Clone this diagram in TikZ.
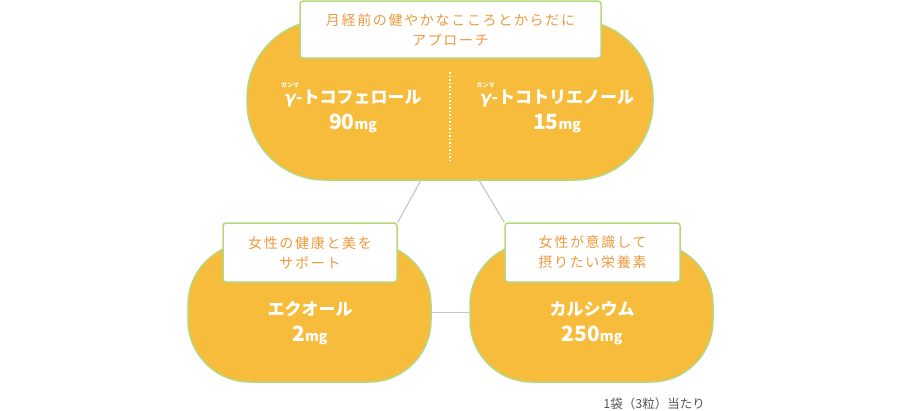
\documentclass[tikz,border=0pt]{standalone}
\usepackage{fontspec}
\setmainfont{Noto Sans CJK JP}
\newfontfamily\labelfont[LetterSpace=12]{Noto Sans CJK JP}
\newfontfamily\gammafont{DejaVu Sans}
\usetikzlibrary{positioning,backgrounds}

\definecolor{capsulefill}{HTML}{F8BC3C}
\definecolor{capsuleline}{HTML}{B6D87C}
\definecolor{labeltext}{HTML}{EE9A3E}
\definecolor{linkgray}{HTML}{C8C8C8}
\definecolor{notegray}{HTML}{555555}

% small reading over a base text
\newcommand\furi[2]{\setbox0\hbox{#1}\rlap{\hbox to\wd0{\hss\raisebox{0.9em}[0pt][0pt]{\fontsize{6pt}{6pt}\selectfont #2}\hss}}\box0}
\newcommand\gam{\furi{\gammafont\bfseries\itshape γ}{ガンマ}}
\newcommand\amount[1]{{\fontsize{21pt}{25pt}\selectfont #1}{\fontsize{14pt}{25pt}\selectfont mg}}

\begin{document}
\begin{tikzpicture}[
    x = 1pt, y = -1pt,
    capsule/.style = {draw = capsuleline, line width = 1.5pt, fill = capsulefill,
      rectangle, inner sep = 0pt},
    tagbox/.style = {draw = capsuleline, line width = 1.5pt, fill = white,
      rounded corners = 3pt, inner sep = 0pt, align = center,
      text = labeltext, font = \labelfont\fontsize{14pt}{20pt}\selectfont},
    amountbox/.style = {text = white, align = center,
      font = \bfseries\fontsize{17pt}{26pt}\selectfont},
    link/.style = {draw = linkgray, line width = 1.2pt},
    ]

    \useasboundingbox (0, 0) rectangle (900, 410);

    % capsules
    \node[capsule, minimum width = 406pt, minimum height = 160pt,
      rounded corners = 78pt] (topcap) at (450, 100) {};
    \node[capsule, minimum width = 243pt, minimum height = 139pt,
      rounded corners = 62pt] (lcap) at (309.5, 312.5) {};
    \node[capsule, minimum width = 243pt, minimum height = 139pt,
      rounded corners = 62pt] (rcap) at (591.5, 312.5) {};

    % tags on top of the capsules
    \node[tagbox, minimum width = 301pt, minimum height = 57pt] (tbox) at (450.5, 29.5)
      {月経前の健やかなこころとからだに\\アプローチ};
    \node[tagbox, minimum width = 174pt, minimum height = 59pt] (lbox) at (310, 252.5)
      {女性の健康と美を\\サポート};
    \node[tagbox, minimum width = 175pt, minimum height = 59pt] (rbox) at (592.5, 252.5)
      {女性が意識して\\摂りたい栄養素};

    % contents
    \node[amountbox] (toco) at (353, 111) {\gam-トコフェロール\\\amount{90}};
    \node[amountbox] (tri) at (557, 111) {\gam-トコトリエノール\\\amount{15}};
    \node[amountbox] (equol) at (310, 323) {エクオール\\\amount{2}};
    \node[amountbox] (calc) at (592, 323) {カルシウム\\\amount{250}};

    % dotted divider
    \coordinate (d0) at (450, 72);
    \coordinate (d1) at (450, 162);
    \draw[white, line width = 1.5pt, dotted] (d0) -- (d1);

    % connectors, behind everything
    \begin{scope}[on background layer]
        \draw[link] (topcap.250) -- (lbox.north east);
        \draw[link] (topcap.290) -- (rbox.north west);
        \draw[link] (lcap.east) -- (rcap.west);
    \end{scope}

    \node[anchor = east, text = notegray, inner sep = 0pt,
      font = \fontsize{12.5pt}{14pt}\selectfont] (note) at (705, 404) {1袋（3粒）当たり};

\end{tikzpicture}
\end{document}
